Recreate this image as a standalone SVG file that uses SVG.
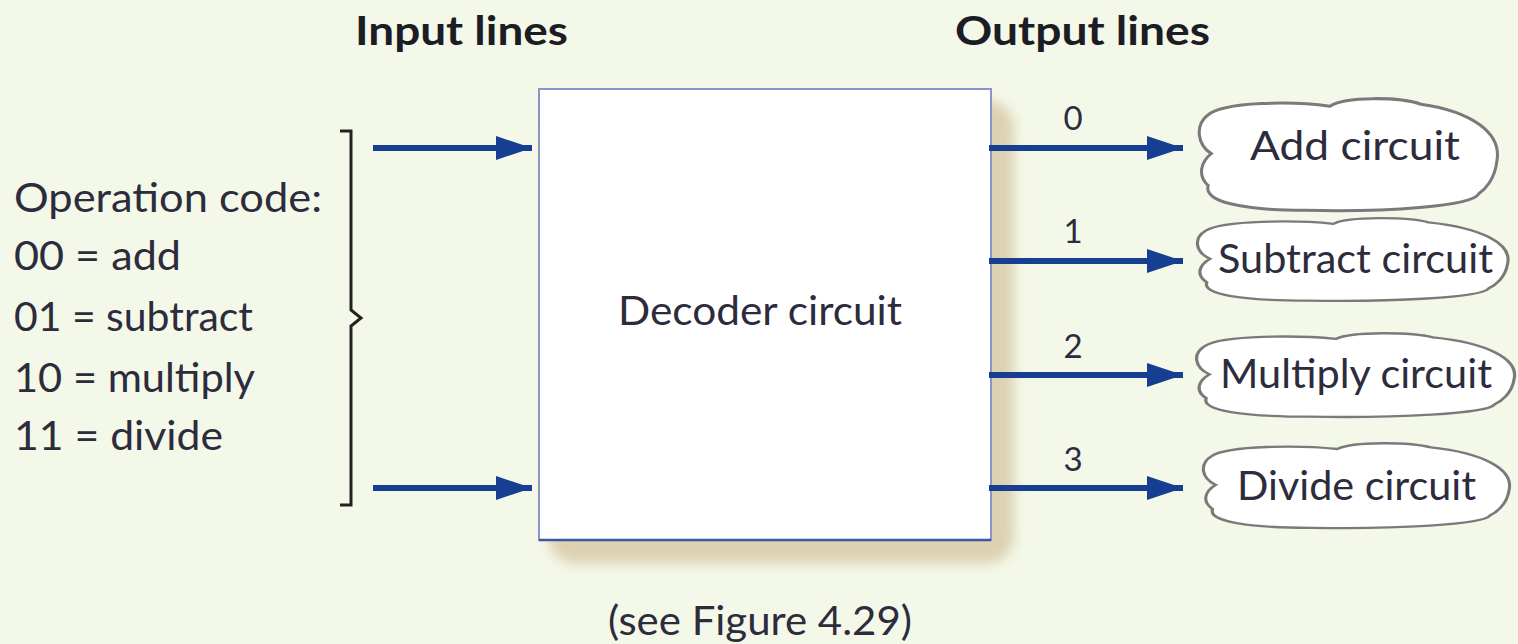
<svg xmlns="http://www.w3.org/2000/svg" xmlns:xlink="http://www.w3.org/1999/xlink" width="1518" height="644" viewBox="0 0 1518 644">
<style>
.t{font-family:Lato,"Liberation Sans",sans-serif;font-weight:normal;fill:#2c2c3c;font-size:40px}
.b{font-family:Lato,"Liberation Sans",sans-serif;font-weight:bold;fill:#1c1c24;font-size:40px}
.n{font-size:33px}
.conn{stroke:#173f91;stroke-width:6;fill:none}
.cloud{fill:#ffffff;stroke:#7a7a7a;stroke-width:3}
</style>
<defs>
<marker id="ah" markerUnits="userSpaceOnUse" markerWidth="40" markerHeight="26" refX="36" refY="12" orient="auto">
<path d="M0,0 L36,12 L0,24 Z" fill="#173f91"/>
</marker>
<filter id="blur" x="-10%" y="-10%" width="120%" height="120%"><feGaussianBlur stdDeviation="6"/></filter>
<path id="cl" d="M18,55 C4,46 2,28 14,18 C30,4 100,4 135,9 C150,-1 205,0 225,7 C275,14 305,35 300,62 C298,80 288,90 282,94 C276,106 190,112 110,110 C50,110 10,102 15,86 C4,76 8,63 18,55 Z"/>
</defs>
<rect width="1518" height="644" fill="#f4f8e8"/>
<text class="b" x="355" y="45" textLength="213" lengthAdjust="spacingAndGlyphs">Input lines</text>
<text class="b" x="955" y="45" textLength="255" lengthAdjust="spacingAndGlyphs">Output lines</text>
<g id="opcode">
<text class="t" x="14" y="212" textLength="308" lengthAdjust="spacingAndGlyphs">Operation code:</text>
<text class="t" x="14" y="270" textLength="167" lengthAdjust="spacingAndGlyphs">00 = add</text>
<text class="t" x="14" y="331" textLength="239" lengthAdjust="spacingAndGlyphs">01 = subtract</text>
<text class="t" x="14" y="392" textLength="241" lengthAdjust="spacingAndGlyphs">10 = multiply</text>
<text class="t" x="14" y="450" textLength="209" lengthAdjust="spacingAndGlyphs">11 = divide</text>
<path d="M340,131 L351,131 L351,310 L361,318 L351,326 L351,505 L340,505" fill="none" stroke="#222" stroke-width="3"/>
</g>
<g id="decoder">
<rect x="548" y="100" width="466" height="464" rx="28" fill="#ddd1b2" filter="url(#blur)"/>
<rect x="539" y="89" width="452" height="451" fill="#ffffff" stroke="#8a94c8" stroke-width="2"/>
<line x1="539" y1="540" x2="991" y2="540" stroke="#3a57a3" stroke-width="2.5"/>
<text class="t" x="618" y="325" textLength="284" lengthAdjust="spacingAndGlyphs">Decoder circuit</text>
</g>
<text class="t" x="608" y="635" textLength="304" lengthAdjust="spacingAndGlyphs">(see Figure 4.29)</text>
<g id="connectors">
<line class="conn" x1="373" y1="148" x2="532" y2="148" marker-end="url(#ah)"/>
<line class="conn" x1="373" y1="488" x2="532" y2="488" marker-end="url(#ah)"/>
<line class="conn" x1="989" y1="148" x2="1183" y2="148" marker-end="url(#ah)"/>
<line class="conn" x1="989" y1="261" x2="1183" y2="261" marker-end="url(#ah)"/>
<line class="conn" x1="989" y1="375" x2="1183" y2="375" marker-end="url(#ah)"/>
<line class="conn" x1="989" y1="488" x2="1183" y2="488" marker-end="url(#ah)"/>
<text class="t n" x="1073" y="130" text-anchor="middle">0</text>
<text class="t n" x="1073" y="243" text-anchor="middle">1</text>
<text class="t n" x="1073" y="358" text-anchor="middle">2</text>
<text class="t n" x="1073" y="471" text-anchor="middle">3</text>
</g>
<g id="add">
<use xlink:href="#cl" class="cloud" transform="translate(1193,97) scale(1.013,1.03)"/>
<text class="t" x="1250" y="160" textLength="210" lengthAdjust="spacingAndGlyphs">Add circuit</text>
</g>
<g id="subtract">
<use xlink:href="#cl" class="cloud" transform="translate(1191,217) scale(1.055,0.76)"/>
<text class="t" x="1218" y="273" textLength="275" lengthAdjust="spacingAndGlyphs">Subtract circuit</text>
</g>
<g id="multiply">
<use xlink:href="#cl" class="cloud" transform="translate(1190,332) scale(1.08,0.77)"/>
<text class="t" x="1220" y="388" textLength="272" lengthAdjust="spacingAndGlyphs">Multiply circuit</text>
</g>
<g id="divide">
<use xlink:href="#cl" class="cloud" transform="translate(1197,442) scale(1.04,0.78)"/>
<text class="t" x="1237" y="500" textLength="239" lengthAdjust="spacingAndGlyphs">Divide circuit</text>
</g>
</svg>
